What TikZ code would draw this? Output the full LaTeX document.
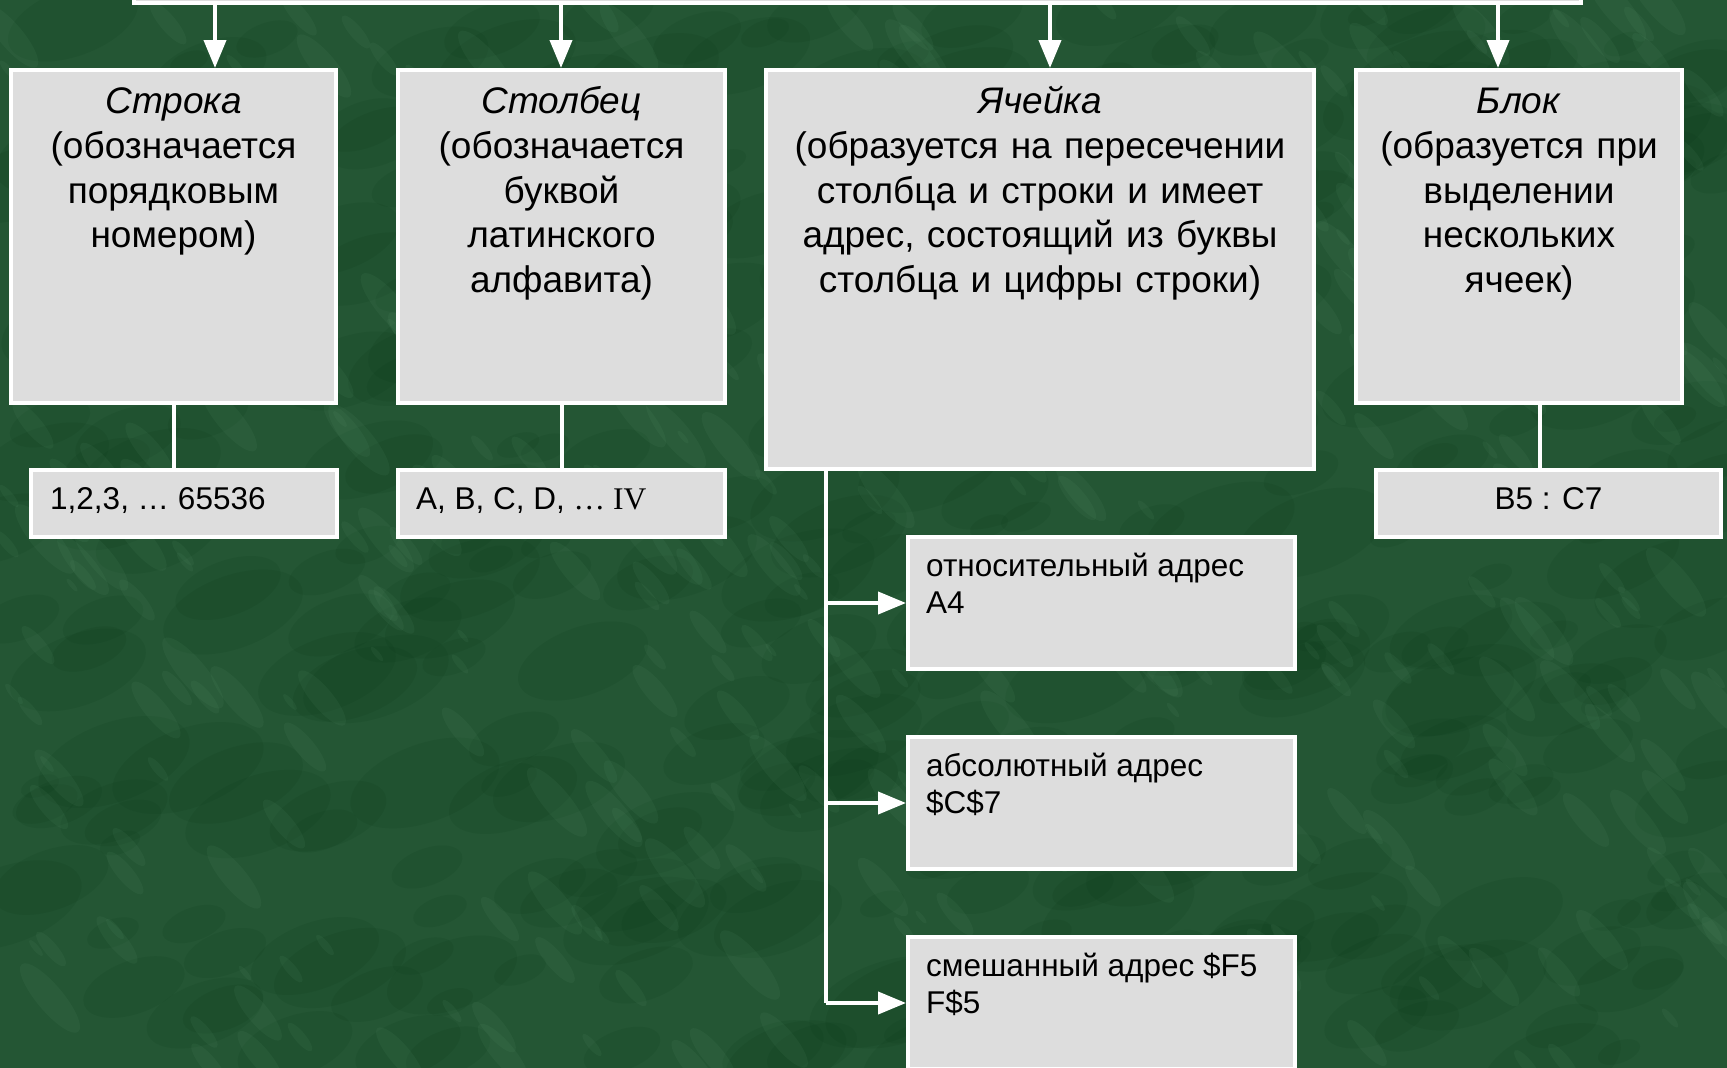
\documentclass[tikz,border=0pt]{standalone}
\usepackage{fontspec}
\setmainfont{Liberation Sans}
\newfontfamily\timesfont{Liberation Serif}
\usetikzlibrary{arrows.meta}
\definecolor{bggreen}{RGB}{36,86,52}
\definecolor{darkgreen}{RGB}{8,54,22}
\definecolor{lightgreen}{RGB}{104,160,122}
\definecolor{boxgrey}{RGB}{221,221,221}
\tikzset{
  greybox/.style={draw=white, fill=boxgrey, line width=4pt, inner sep=0pt},
  bigtext/.style={font=\fontsize{37}{44.6}\selectfont, align=center, text width=520pt, inner sep=0pt, anchor=north},
  smalltext/.style={font=\fontsize{31.5}{37}\selectfont, align=left, inner sep=0pt},
  conn/.style={draw=white, line width=4pt},
  arr/.style={conn, -{Triangle[length=28pt,width=22pt]}}
}
\begin{document}
\begin{tikzpicture}[x=1pt,y=-1pt]
    \useasboundingbox (0,0) rectangle (1727,1068);
    \clip (0,0) rectangle (1727,1068);
    % marble background
    \fill[bggreen] (0,0) rectangle (1727,1068);
    \pgfmathsetseed{17}
    \foreach \i in {1,...,420}{
        \pgfmathsetmacro{\bx}{random(0,1727)}
        \pgfmathsetmacro{\by}{random(0,1068)}
        \pgfmathsetmacro{\br}{random(20,80)}
        \fill[darkgreen, opacity=0.12, rotate around={20:(\bx,\by)}] (\bx,\by) circle[x radius=\br pt, y radius=0.5*\br pt];
    }
    \foreach \i in {1,...,420}{
        \pgfmathsetmacro{\bx}{random(0,1727)}
        \pgfmathsetmacro{\by}{random(0,1068)}
        \pgfmathsetmacro{\br}{random(8,45)}
        \fill[lightgreen, opacity=0.09, rotate around={-50:(\bx,\by)}] (\bx,\by) circle[x radius=\br pt, y radius=0.3*\br pt];
    }

    % boxes
    \node[greybox, minimum width=1447, minimum height=100] (root) at (857.5,-47) {};
    \node[greybox, minimum width=325, minimum height=333] (srow) at (173.5,236.5) {};
    \node[greybox, minimum width=327, minimum height=333] (scol) at (561.5,236.5) {};
    \node[greybox, minimum width=548, minimum height=399] (scell) at (1040,269.5) {};
    \node[greybox, minimum width=326, minimum height=333] (sblock) at (1519,236.5) {};
    \node[greybox, minimum width=306, minimum height=67] (nrow) at (184,503.5) {};
    \node[greybox, minimum width=327, minimum height=67] (ncol) at (561.5,503.5) {};
    \node[greybox, minimum width=345, minimum height=67] (nblock) at (1548.5,503.5) {};
    \node[greybox, minimum width=387, minimum height=132] (arel) at (1101.5,603) {};
    \node[greybox, minimum width=387, minimum height=132] (aabs) at (1101.5,803) {};
    \node[greybox, minimum width=387, minimum height=132] (amix) at (1101.5,1003) {};

    % texts
    \node[bigtext] (trow) at ([yshift=-14.5pt]srow.north) {\strut\textit{Строка}\\(обозначается\\порядковым\\номером)};
    \node[bigtext] (tcol) at ([yshift=-14.5pt]scol.north) {\strut\textit{Столбец}\\(обозначается\\буквой\\латинского\\алфавита)};
    \node[bigtext] (tcell) at ([yshift=-14.5pt]scell.north) {\strut\textit{Ячейка}\\(образуется на пересечении\\столбца и строки и имеет\\адрес, состоящий из буквы\\столбца и цифры строки)};
    \node[bigtext] (tblock) at ([yshift=-14.5pt]sblock.north) {\strut\textit{Блок}\\(образуется при\\выделении\\нескольких\\ячеек)};
    \node[smalltext, anchor=base west] (vrow) at ([xshift=21pt,yshift=-41pt]nrow.north west) {1,2,3, … 65536};
    \node[smalltext, anchor=base west] (vcol) at ([xshift=20pt,yshift=-41pt]ncol.north west) {A, B, C, D, {\timesfont … IV}};
    \node[smalltext, anchor=base] (vblock) at ([yshift=-41pt]nblock.north) {B5 : C7};
    \node[smalltext, anchor=north west] (trel) at ([xshift=20pt,yshift=-15.5pt]arel.north west) {\strut относительный адрес\\A4};
    \node[smalltext, anchor=north west] (tabs) at ([xshift=20pt,yshift=-15.5pt]aabs.north west) {\strut абсолютный адрес\\\$C\$7};
    \node[smalltext, anchor=north west] (tmix) at ([xshift=20pt,yshift=-15.5pt]amix.north west) {\strut смешанный адрес \$F5\\F\$5};

    % arrows from the top box
    \coordinate (r1) at (215,3);
    \coordinate (r2) at (561,3);
    \coordinate (r3) at (1050,3);
    \coordinate (r4) at (1498,3);
    \draw[arr] (r1) -- (r1 |- srow.north);
    \draw[arr] (r2) -- (r2 |- scol.north);
    \draw[arr] (r3) -- (r3 |- scell.north);
    \draw[arr] (r4) -- (r4 |- sblock.north);

    % links to the examples
    \draw[conn] (srow.south) -- (srow.south |- nrow.north);
    \draw[conn] (scol.south) -- (scol.south |- ncol.north);
    \coordinate (bb) at ([xshift=21pt]sblock.south);
    \draw[conn] (bb) -- (bb |- nblock.north);

    % address kinds
    \coordinate (cb) at ([xshift=62pt]scell.south west);
    \draw[conn] (cb) -- (cb |- amix.west);
    \draw[arr] (cb |- arel.west) -- (arel.west);
    \draw[arr] (cb |- aabs.west) -- (aabs.west);
    \draw[arr] (cb |- amix.west) -- (amix.west);
\end{tikzpicture}
\end{document}
